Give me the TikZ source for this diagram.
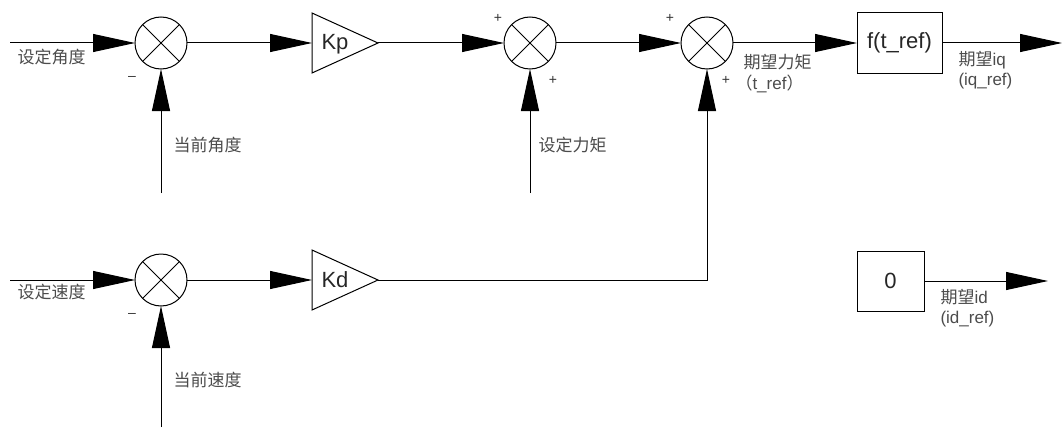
\documentclass[tikz,border=0pt]{standalone}
\usepackage{fontspec}
\setmainfont{Liberation Sans}
\newfontfamily\cjk{Noto Sans CJK SC}
\usetikzlibrary{arrows.meta}
\begin{document}
\begin{tikzpicture}[x=1pt,y=-1pt,
  line width=1pt,
  sum/.style={circle, draw, minimum size=52pt, inner sep=0pt, outer sep=0pt},
  gainbox/.style={minimum width=66pt, minimum height=60pt, inner sep=0pt, outer sep=0pt},
  blk/.style={draw, rectangle, inner sep=0pt, outer sep=0pt, font=\fontsize{22}{24}\selectfont, text=black!85},
  flow/.style={-{Triangle[length=42pt,width=18pt]}},
  lbl/.style={font=\cjk\fontsize{17}{19}\selectfont, text=black!70, inner sep=0pt, anchor=west},
  sgn/.style={font=\fontsize{14}{15}\selectfont, text=black!80, inner sep=0pt},
  gtxt/.style={font=\fontsize{22}{24}\selectfont, text=black!85, inner sep=0pt}]
\useasboundingbox (0,0) rectangle (1062,428);

% summing junctions
\node[sum] (s1) at (161,43) {};
\node[sum] (s2) at (530,43) {};
\node[sum] (s3) at (707,43) {};
\node[sum] (s4) at (161,280) {};
\foreach \s in {s1,s2,s3,s4}{
  \draw (\s.45) -- (\s.225);
  \draw (\s.135) -- (\s.315);
}

% gains
\node[gainbox] (kp) at (345,43) {};
\draw (kp.north west) -- (kp.east) -- (kp.south west) -- cycle;
\node[gtxt] (kptxt) at (335,44) {Kp};
\node[gainbox] (kd) at (345,280) {};
\draw (kd.north west) -- (kd.east) -- (kd.south west) -- cycle;
\node[gtxt] (kdtxt) at (335,280) {Kd};

% blocks
\node[blk, minimum width=85pt, minimum height=60pt] (f) at (899.5,43) {f(t\_ref)};
\node[blk, minimum width=67pt, minimum height=60pt] (z) at (890.5,281) {0};

% free ends
\coordinate (in1) at (10,43);
\coordinate (in2) at (10,280);
\coordinate (fb1) at (161,193);
\coordinate (fb2) at (530,193);
\coordinate (fb3) at (161,427);
\coordinate (out1) at (1062,43);
\coordinate (out2) at (1048,281);

% connectors
\draw[flow] (in1) -- (s1.west);
\draw[flow] (fb1) -- (s1.south);
\draw[flow] (s1.east) -- (kp.west);
\draw[flow] (kp.east) -- (s2.west);
\draw[flow] (fb2) -- (s2.south);
\draw[flow] (s2.east) -- (s3.west);
\draw[flow] (kd.east) -| (s3.south);
\draw[flow] (s3.east) -- (f.west);
\draw[flow] (f.east) -- (out1);
\draw[flow] (in2) -- (s4.west);
\draw[flow] (fb3) -- (s4.south);
\draw[flow] (s4.east) -- (kd.west);
\draw[flow] (z.east) -- (out2);

% labels
\node[lbl] (l1) at (17,57) {设定角度};
\node[lbl] (l2) at (173,145) {当前角度};
\node[lbl] (l3) at (538,145) {设定力矩};
\node[lbl] (l4) at (743,62) {期望力矩};
\node[lbl] (l5) at (735,84) {（{\fontspec{Liberation Sans}t\_ref}）};
\node[lbl] (l6) at (958,60) {期望{\fontspec{Liberation Sans}iq}};
\node[lbl] (l7) at (958,81) {\fontspec{Liberation Sans}(iq\_ref)};
\node[lbl] (l8) at (17,292) {设定速度};
\node[lbl] (l9) at (173,380) {当前速度};
\node[lbl] (l10) at (940,297) {期望{\fontspec{Liberation Sans}id}};
\node[lbl] (l11) at (940,319) {\fontspec{Liberation Sans}(id\_ref)};

% signs
\node[sgn] (m1) at (132,78) {\textendash};
\node[sgn] (m2) at (132,315) {\textendash};
\node[sgn] (p1) at (498,18) {+};
\node[sgn] (p2) at (553,80) {+};
\node[sgn] (p3) at (670,18) {+};
\node[sgn] (p4) at (726,80) {+};
\end{tikzpicture}
\end{document}
